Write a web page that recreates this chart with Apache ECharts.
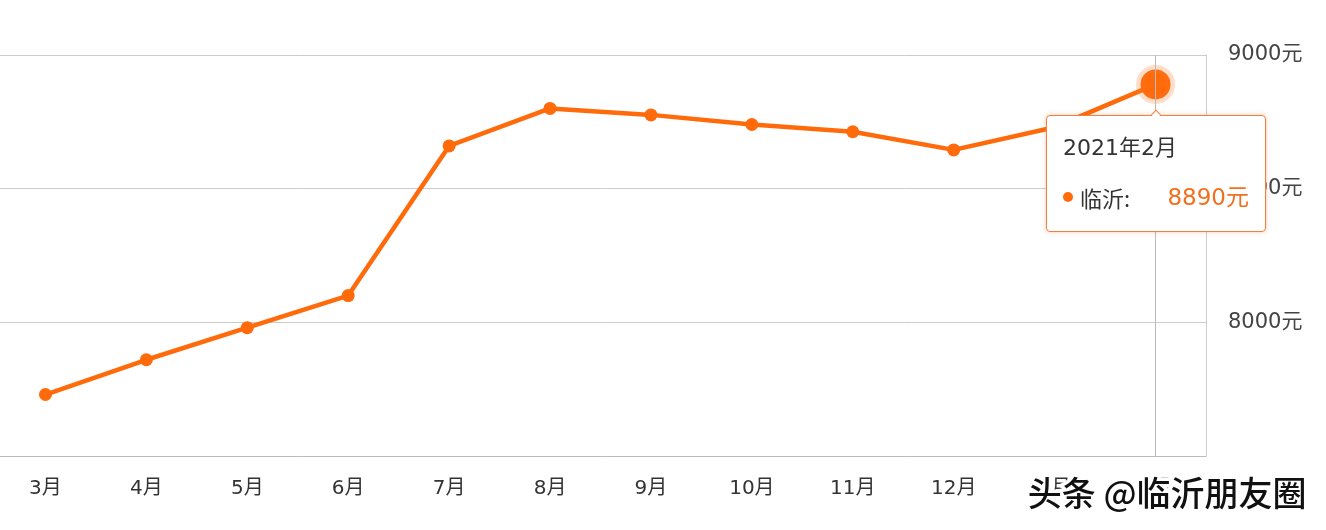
<!DOCTYPE html>
<html>
<head>
<meta charset="utf-8">
<script src="https://cdn.jsdelivr.net/npm/echarts@6/dist/echarts.min.js"></script>
<style>
html,body{margin:0;padding:0;background:#fff;}
#chart{width:1326px;height:530px;}
</style>
</head>
<body>
<div id="chart"></div>
<script>
// Data
const categories = ['3月','4月','5月','6月','7月','8月','9月','10月','11月','12月','1月','2月'];
const years = [2020,2020,2020,2020,2020,2020,2020,2020,2020,2020,2021,2021];
const seriesName = '临沂';
const prices = [7730, 7860, 7980, 8100, 8660, 8800, 8776, 8740, 8713, 8645, 8730, 8890];
const yTicks = [7500, 8000, 8500, 9000];
const highlightIndex = 11;

const ORANGE = '#ff6a0a';
const FONT = '"DejaVu Sans","Noto Sans CJK SC",sans-serif';
const FONT_CSS = "'DejaVu Sans','Noto Sans CJK SC',sans-serif";

const seriesData = prices.map((v, i) => i === highlightIndex
  ? { value: v, symbolSize: 30, itemStyle: { color: ORANGE, borderColor: 'rgba(255,120,40,0.25)', borderWidth: 9 } }
  : v);

const chart = echarts.init(document.getElementById('chart'), null, { renderer: 'canvas' });
chart.setOption({
  animation: false,
  backgroundColor: '#fff',
  textStyle: { fontFamily: FONT },
  grid: { left: -5, right: 120, top: 55, bottom: 74, containLabel: false, outerBoundsMode: 'none' },
  xAxis: {
    type: 'category',
    data: categories,
    boundaryGap: true,
    axisLine: { lineStyle: { color: '#bbb', width: 1 } },
    axisTick: { alignWithLabel: true, length: 6, lineStyle: { color: '#bbb' } },
    axisLabel: { color: '#333', fontSize: 20, margin: 23, fontFamily: FONT, interval: 0 },
    splitLine: { show: false }
  },
  yAxis: {
    type: 'value',
    position: 'right',
    min: yTicks[0],
    max: yTicks[yTicks.length - 1],
    interval: yTicks[1] - yTicks[0],
    axisLine: { show: true, lineStyle: { color: '#ccc', width: 1 } },
    axisTick: { show: false },
    axisLabel: {
      color: '#444', fontSize: 21, margin: 22, fontFamily: FONT, showMinLabel: false,
      formatter: function (v) { return String(v) + '元'; }
    },
    splitLine: { lineStyle: { color: '#ccc', width: 1 } }
  },
  tooltip: {
    trigger: 'item',
    position: 'bottom',
    alwaysShowContent: true,
    transitionDuration: 0,
    backgroundColor: '#fff',
    borderColor: '#f08040',
    borderWidth: 1.5,
    padding: [17, 16, 19, 16],
    extraCssText: 'border-radius:4px;box-shadow:0 0 5px rgba(240,110,30,0.35);',
    formatter: function (p) {
      const i = p.dataIndex;
      return '<div style="width:186px;font-family:' + FONT_CSS + ';">' +
        '<div style="font-size:22px;line-height:30px;color:#333;">' + years[i] + '年' + categories[i] + '</div>' +
        '<div style="margin-top:19px;display:flex;align-items:center;font-size:22px;line-height:30px;">' +
        '<span style="display:inline-block;width:10px;height:10px;border-radius:50%;background:' + ORANGE + ';margin-right:7px;"></span>' +
        '<span style="color:#333;font-family:\'Noto Sans CJK SC\';">' + p.seriesName + ':</span>' +
        '<span style="color:#f07020;margin-left:auto;font-size:23px;">' + p.value + '元</span>' +
        '</div></div>';
    }
  },
  graphic: [{
    type: 'text',
    right: 16,
    bottom: 16,
    z: 100,
    style: {
      text: '头条 @临沂朋友圈',
      font: '500 34px "Noto Sans CJK SC"',
      fill: '#111',
      stroke: '#fff',
      lineWidth: 7
    }
  }],
  series: [{
    name: seriesName,
    type: 'line',
    data: seriesData,
    symbol: 'circle',
    symbolSize: 13,
    lineStyle: { color: ORANGE, width: 4.5 },
    itemStyle: { color: ORANGE },
    emphasis: { disabled: true },
    markLine: {
      silent: true,
      symbol: 'none',
      label: { show: false },
      lineStyle: { color: '#bbb', width: 1, type: 'solid' },
      data: [{ xAxis: categories[highlightIndex] }]
    }
  }]
});
chart.dispatchAction({ type: 'showTip', seriesIndex: 0, dataIndex: highlightIndex });
</script>
</body>
</html>
